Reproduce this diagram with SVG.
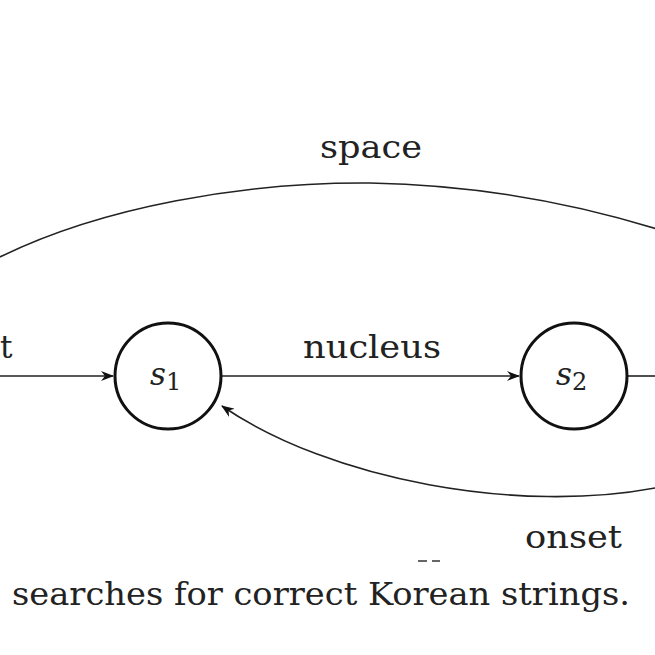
<svg xmlns="http://www.w3.org/2000/svg" width="655" height="655" viewBox="0 0 655 655">
<style>
.n{fill:#fff;stroke:#111;stroke-width:3}
.e{fill:none;stroke:#222;stroke-width:1.6}
.t{font-family:"DejaVu Serif","Liberation Serif",serif;font-size:31px;fill:#222}
.m{font-family:"DejaVu Serif","Liberation Serif",serif;font-style:italic;font-size:31px;fill:#222}
</style>
<defs><marker id="a" markerWidth="14" markerHeight="10" refX="12" refY="5" orient="auto" markerUnits="userSpaceOnUse"><path d="M0,0 L13,5 L0,10 L4,5 Z" fill="#111"/></marker></defs>
<rect width="655" height="655" fill="#fff"/>
<g id="connectors">
<line class="e" x1="-5" y1="376" x2="113" y2="376" marker-end="url(#a)"/>
<line class="e" x1="222" y1="376" x2="519" y2="376" marker-end="url(#a)"/>
<line class="e" x1="628" y1="376" x2="660" y2="376"/>
<path class="e" d="M-10,262 C100,205 250,182 370,183 C480,185 580,205 660,230"/>
<path class="e" d="M660,487 C520,515 330,480 222,406" marker-end="url(#a)"/>
<line x1="418" y1="561" x2="427" y2="561" stroke="#333" stroke-width="1.5"/>
<line x1="432" y1="561" x2="440" y2="561" stroke="#333" stroke-width="1.5"/>
</g>
<g id="s1"><circle class="n" cx="168" cy="376" r="53"/><text class="m" x="150" y="385">s<tspan font-style="normal" font-size="24" dy="5">1</tspan></text></g>
<g id="s2"><circle class="n" cx="574" cy="376" r="53"/><text class="m" x="556" y="385">s<tspan font-style="normal" font-size="24" dy="5">2</tspan></text></g>
<text class="t" x="0" y="358">t</text>
<text class="t" x="303" y="358" textLength="138" lengthAdjust="spacingAndGlyphs">nucleus</text>
<text class="t" x="320" y="158" textLength="102" lengthAdjust="spacingAndGlyphs">space</text>
<text class="t" x="525" y="548" textLength="97" lengthAdjust="spacingAndGlyphs">onset</text>
<text class="t" x="12" y="605" textLength="618" lengthAdjust="spacingAndGlyphs">searches for correct Korean strings.</text>
</svg>
